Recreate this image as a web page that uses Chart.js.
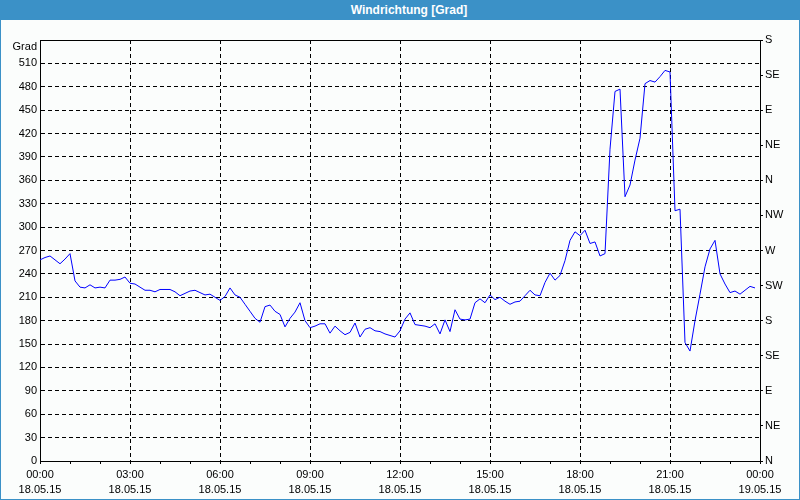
<!DOCTYPE html>
<html>
<head>
<meta charset="utf-8">
<script src="https://cdn.jsdelivr.net/npm/chart.js@4.4.1/dist/chart.umd.min.js"></script>
<style>
html,body{margin:0;padding:0;background:#ffffff;}
#frame{position:relative;width:798px;height:498px;border:1px solid #3b91c7;background:#fbfdfc;overflow:hidden;}
#title{position:absolute;left:0;top:0;width:798px;height:19px;box-sizing:border-box;padding-left:18px;background:#3b91c7;color:#ffffff;font:bold 12px "Liberation Sans",Arial,sans-serif;line-height:19px;text-align:center;}
#wrap{position:absolute;left:0;top:20px;width:798px;height:478px;}
</style>
</head>
<body>
<div id="frame">
  <div id="title">Windrichtung [Grad]</div>
  <div id="wrap"><canvas id="c" width="798" height="478"></canvas></div>
</div>
<script>
// Wind direction in degrees, one value every 10 minutes from 18.05.15 00:00
const windDirection = [
  258, 261, 263, 258, 253, 259, 266, 231, 223, 222,
  226, 222, 223, 222, 232, 232, 233, 236, 228, 227,
  223, 219, 219, 217, 220, 220, 220, 217, 212, 215,
  218, 219, 216, 213, 214, 210, 206, 211, 222, 213,
  210, 201, 192, 183, 178, 198, 200, 192, 188, 172,
  183, 191, 203, 180, 171, 173, 176, 176, 164, 173,
  167, 162, 165, 177, 159, 169, 171, 167, 166, 163,
  161, 159, 167, 182, 190, 175, 174, 173, 171, 176,
  163, 181, 166, 194, 182, 181, 182, 203, 208, 203,
  213, 207, 210, 205, 201, 204, 205, 212, 219, 213,
  212, 229, 241, 232, 238, 257, 283, 294, 289, 296,
  279, 281, 263, 266, 400, 474, 477, 339, 354, 386,
  414, 484, 488, 486, 493, 501, 499, 321, 323, 152,
  141, 180, 214, 249, 272, 283, 240, 227, 216, 218,
  214, 219, 224, 222
];
const sampleStepMinutes = 10;
const timeLabels = ['00:00','03:00','06:00','09:00','12:00','15:00','18:00','21:00','00:00'];
const dateLabels = ['18.05.15','18.05.15','18.05.15','18.05.15','18.05.15','18.05.15','18.05.15','18.05.15','19.05.15'];
const compassLabels = ['N','NE','E','SE','S','SW','W','NW','N','NE','E','SE','S'];
const yUnitLabel = 'Grad';

const points = windDirection.map((v, i) => ({x: i * sampleStepMinutes, y: v}));

Chart.defaults.font.family = '"Liberation Sans", Arial, sans-serif';
Chart.defaults.font.size = 11;
Chart.defaults.color = '#000000';

const framePlugin = {
  id: 'frame',
  beforeDatasetsDraw(chart) {
    const {ctx, chartArea: a} = chart;
    ctx.save();
    ctx.strokeStyle = '#000000';
    ctx.lineWidth = 1;
    ctx.setLineDash([]);
    ctx.strokeRect(Math.round(a.left) + 0.5, Math.round(a.top) + 0.5,
                   Math.round(a.right - a.left), Math.round(a.bottom - a.top));
    ctx.restore();
  }
};

new Chart(document.getElementById('c'), {
  type: 'line',
  data: {
    datasets: [{
      data: points,
      borderColor: '#0000ff',
      borderWidth: 1,
      pointRadius: 0,
      tension: 0,
      fill: false,
      yAxisID: 'y'
    }]
  },
  options: {
    responsive: false,
    animation: false,
    devicePixelRatio: 1,
    layout: {padding: {top: 19, left: 0, right: 0, bottom: 0}},
    plugins: {legend: {display: false}, tooltip: {enabled: false}, title: {display: false}},
    scales: {
      x: {
        type: 'linear',
        min: 0,
        max: 1440,
        afterFit: s => { s.height = 38; },
        ticks: {
          stepSize: 60,
          autoSkip: false,
          maxRotation: 0,
          padding: 3,
          font: {lineHeight: 1.4},
          callback: v => (v % 180 === 0) ? [timeLabels[v / 180], dateLabels[v / 180]] : ''
        },
        grid: {
          color: ctx => (ctx.tick && ctx.tick.value % 180 === 0) ? '#000000' : 'rgba(0,0,0,0)',
          tickColor: '#000000',
          tickLength: 3,
          drawTicks: true
        },
        border: {display: true, color: '#000000', dash: [4, 3]}
      },
      y: {
        position: 'left',
        min: 0,
        max: 540,
        afterFit: s => { s.width = 39; },
        ticks: {
          stepSize: 30,
          autoSkip: false,
          padding: 3,
          callback: v => v === 540 ? ['', yUnitLabel] : String(v)
        },
        grid: {color: '#000000', drawTicks: false},
        border: {display: true, color: '#000000', dash: [4, 3]}
      },
      yDir: {
        position: 'right',
        min: 0,
        max: 540,
        afterFit: s => { s.width = 39; },
        ticks: {
          stepSize: 45,
          autoSkip: false,
          padding: 2,
          callback: v => compassLabels[Math.round(v / 45)]
        },
        grid: {drawOnChartArea: false, drawTicks: true, tickLength: 3, tickColor: '#000000'},
        border: {display: true, color: '#000000'}
      }
    }
  },
  plugins: [framePlugin]
});
</script>
</body>
</html>
